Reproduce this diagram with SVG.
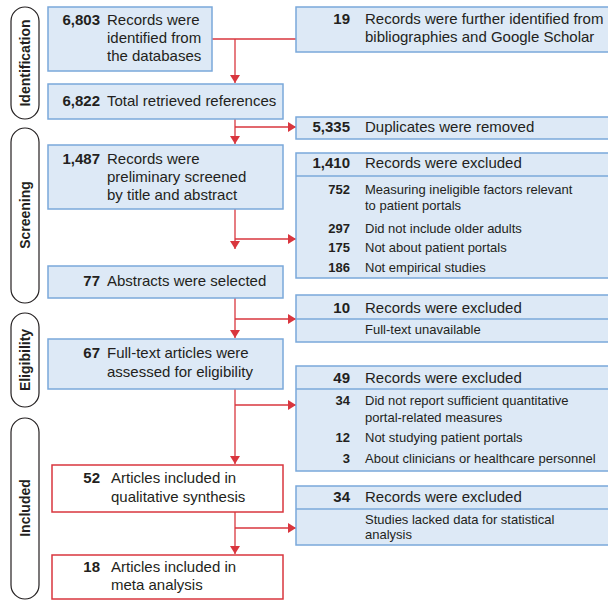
<svg xmlns="http://www.w3.org/2000/svg" width="608" height="601" viewBox="0 0 608 601">
<defs>
<marker id="ah" viewBox="0 0 8 10" refX="8" refY="5" markerWidth="8" markerHeight="10" markerUnits="userSpaceOnUse" orient="auto">
<path d="M0,0 L8,5 L0,10 Z" fill="#d9363e"/>
</marker>
</defs>
<style>
.b{fill:#dde9f6;stroke:#7aa8da;stroke-width:1.5}
.r{fill:#fff;stroke:#d9363e;stroke-width:1.5}
.dv{stroke:#7aa8da;stroke-width:1.5}
.pill{fill:#fff;stroke:#231f20;stroke-width:1.2}
text{font-family:"Liberation Sans",Arial,sans-serif;fill:#231f20}
.t{font-size:15px}
.n{font-size:15px;font-weight:bold;text-anchor:end}
.s{font-size:13px}
.sn{font-size:13px;font-weight:bold;text-anchor:end}
.lab{font-size:14px;font-weight:bold;text-anchor:middle}
.c{fill:none;stroke:#d9363e;stroke-width:1.3}
</style>
<rect width="608" height="601" fill="#fff"/>

<g id="stages">
<rect class="pill" x="11" y="7" width="28" height="112" rx="14"/>
<text class="lab" transform="translate(30,63) rotate(-90)">Identification</text>
<rect class="pill" x="11" y="128" width="28" height="175" rx="14"/>
<text class="lab" transform="translate(30,215) rotate(-90)">Screening</text>
<rect class="pill" x="11" y="313" width="28" height="94" rx="14"/>
<text class="lab" transform="translate(30,360) rotate(-90)">Eligibility</text>
<rect class="pill" x="11" y="418" width="28" height="181" rx="14"/>
<text class="lab" transform="translate(30,508) rotate(-90)">Included</text>
</g>

<g id="connectors">
<path class="c" d="M212,39 H296"/>
<path class="c" d="M235,39 V83" marker-end="url(#ah)"/>
<path class="c" d="M235,119 V144" marker-end="url(#ah)"/>
<path class="c" d="M235,127 H296" marker-end="url(#ah)"/>
<path class="c" d="M235,209 V249" marker-end="url(#ah)"/>
<path class="c" d="M235,239 H296" marker-end="url(#ah)"/>
<path class="c" d="M235,298 V338" marker-end="url(#ah)"/>
<path class="c" d="M235,319 H296" marker-end="url(#ah)"/>
<path class="c" d="M235,389 V464" marker-end="url(#ah)"/>
<path class="c" d="M235,405 H296" marker-end="url(#ah)"/>
<path class="c" d="M235,512 V554" marker-end="url(#ah)"/>
<path class="c" d="M235,528 H296" marker-end="url(#ah)"/>
</g>

<g id="n1">
<rect class="b" x="48" y="7" width="164" height="64"/>
<text class="n" x="100" y="25">6,803</text>
<text class="t" x="107" y="25">Records were</text>
<text class="t" x="107" y="43">identified from</text>
<text class="t" x="107" y="61">the databases</text>
</g>
<g id="n2">
<rect class="b" x="296" y="7" width="330" height="45"/>
<text class="n" x="350" y="24">19</text>
<text class="t" x="365" y="24">Records were further identified from</text>
<text class="t" x="365" y="42">bibliographies and Google Scholar</text>
</g>
<g id="n3">
<rect class="b" x="48" y="84" width="235" height="35"/>
<text class="n" x="100" y="106">6,822</text>
<text class="t" x="107" y="106">Total retrieved references</text>
</g>
<g id="n4">
<rect class="b" x="296" y="117" width="330" height="22"/>
<text class="n" x="350" y="132">5,335</text>
<text class="t" x="365" y="132">Duplicates were removed</text>
</g>
<g id="n5">
<rect class="b" x="48" y="145" width="235" height="64"/>
<text class="n" x="100" y="164">1,487</text>
<text class="t" x="107" y="164">Records were</text>
<text class="t" x="107" y="182">preliminary screened</text>
<text class="t" x="107" y="200">by title and abstract</text>
</g>
<g id="n6">
<rect class="b" x="296" y="153" width="330" height="125"/>
<line class="dv" x1="296" y1="176" x2="626" y2="176"/>
<text class="n" x="350" y="168">1,410</text>
<text class="t" x="365" y="168">Records were excluded</text>
<text class="sn" x="350" y="194">752</text>
<text class="s" x="365" y="194">Measuring ineligible factors relevant</text>
<text class="s" x="365" y="210">to patient portals</text>
<text class="sn" x="350" y="233">297</text>
<text class="s" x="365" y="233">Did not include older adults</text>
<text class="sn" x="350" y="252">175</text>
<text class="s" x="365" y="252">Not about patient portals</text>
<text class="sn" x="350" y="272">186</text>
<text class="s" x="365" y="272">Not empirical studies</text>
</g>
<g id="n7">
<rect class="b" x="48" y="266" width="235" height="32"/>
<text class="n" x="100" y="286">77</text>
<text class="t" x="107" y="286">Abstracts were selected</text>
</g>
<g id="n8">
<rect class="b" x="296" y="295" width="330" height="47"/>
<line class="dv" x1="296" y1="319" x2="626" y2="319"/>
<text class="n" x="350" y="313">10</text>
<text class="t" x="365" y="313">Records were excluded</text>
<text class="s" x="365" y="334">Full-text unavailable</text>
</g>
<g id="n9">
<rect class="b" x="48" y="339" width="235" height="50"/>
<text class="n" x="100" y="358">67</text>
<text class="t" x="107" y="358">Full-text articles were</text>
<text class="t" x="107" y="377">assessed for eligibility</text>
</g>
<g id="n10">
<rect class="b" x="296" y="366" width="330" height="105"/>
<line class="dv" x1="296" y1="389" x2="626" y2="389"/>
<text class="n" x="350" y="383">49</text>
<text class="t" x="365" y="383">Records were excluded</text>
<text class="sn" x="350" y="405">34</text>
<text class="s" x="365" y="405">Did not report sufficient quantitative</text>
<text class="s" x="365" y="422">portal-related measures</text>
<text class="sn" x="350" y="442">12</text>
<text class="s" x="365" y="442">Not studying patient portals</text>
<text class="sn" x="350" y="463">3</text>
<text class="s" x="365" y="463">About clinicians or healthcare personnel</text>
</g>
<g id="n11">
<rect class="r" x="52" y="465" width="231" height="47"/>
<text class="n" x="100" y="483">52</text>
<text class="t" x="111" y="483">Articles included in</text>
<text class="t" x="111" y="502">qualitative synthesis</text>
</g>
<g id="n12">
<rect class="b" x="296" y="486" width="330" height="59"/>
<line class="dv" x1="296" y1="509" x2="626" y2="509"/>
<text class="n" x="350" y="502">34</text>
<text class="t" x="365" y="502">Records were excluded</text>
<text class="s" x="365" y="524">Studies lacked data for statistical</text>
<text class="s" x="365" y="539">analysis</text>
</g>
<g id="n13">
<rect class="r" x="52" y="555" width="231" height="44"/>
<text class="n" x="100" y="572">18</text>
<text class="t" x="111" y="572">Articles included in</text>
<text class="t" x="111" y="590">meta analysis</text>
</g>
</svg>
